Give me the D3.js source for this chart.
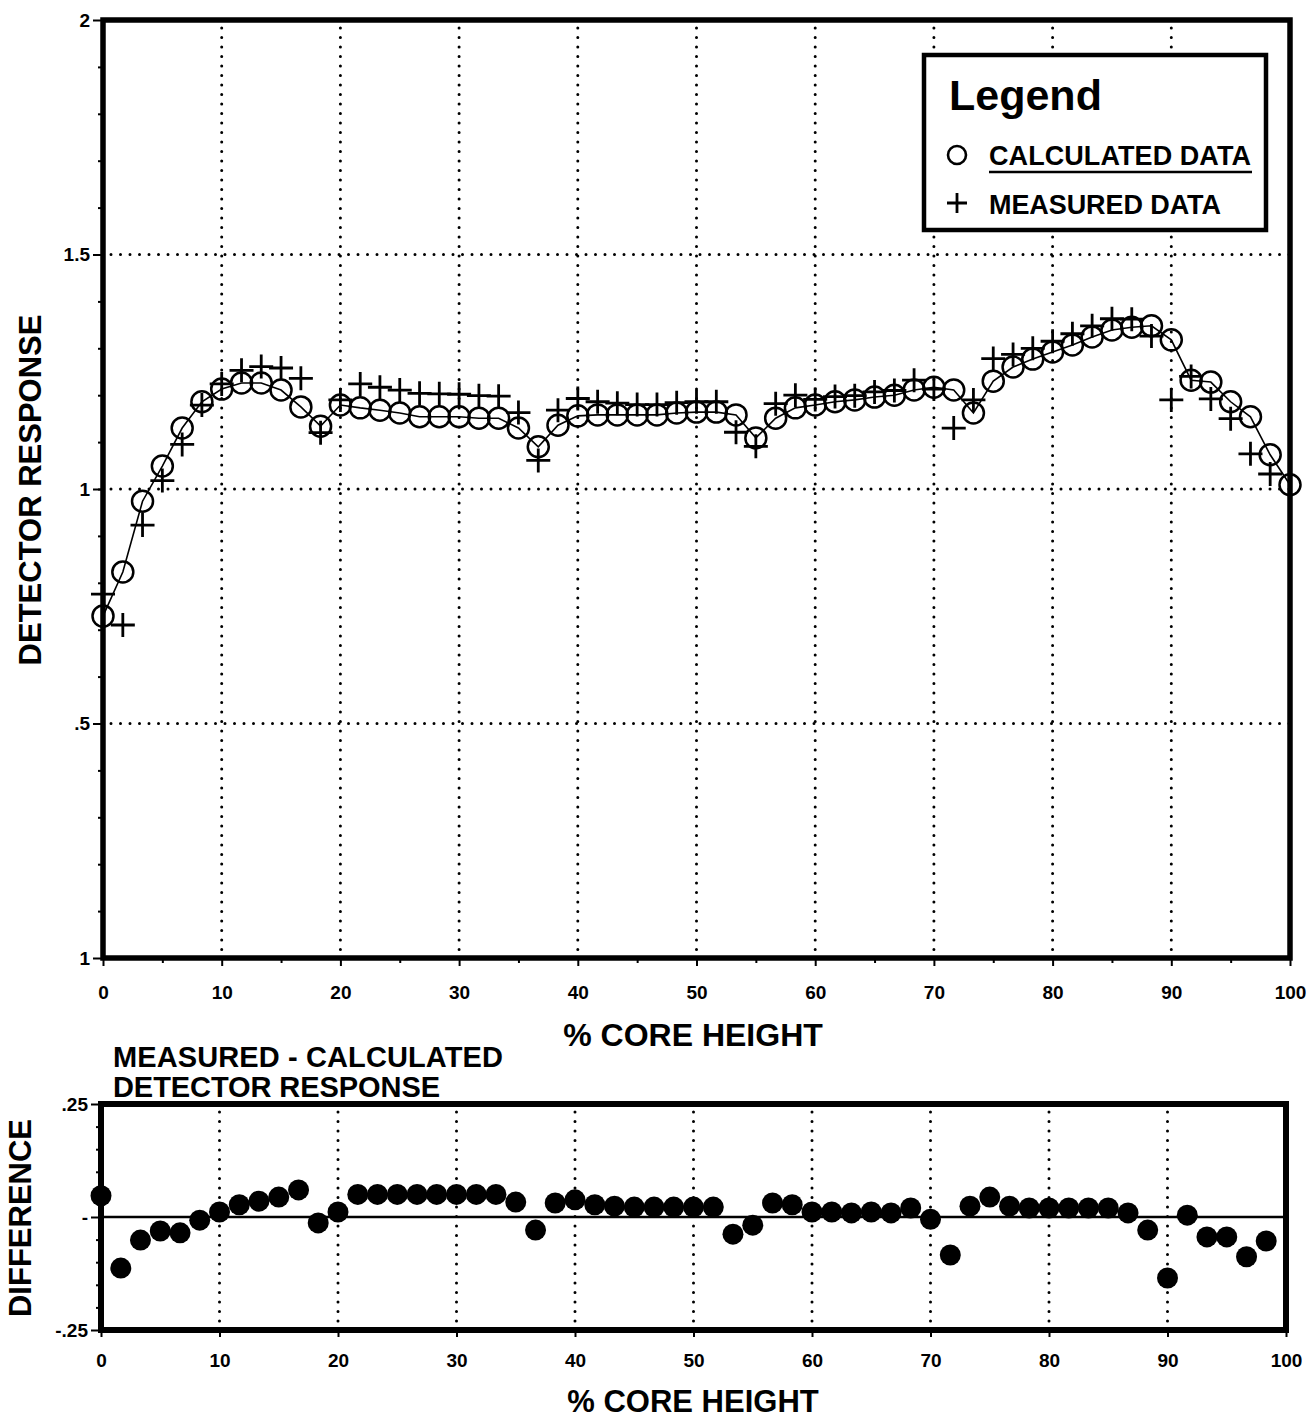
<!DOCTYPE html>
<html>
<head>
  <meta charset="utf-8">
  <title>Detector response</title>
  <script src="https://cdn.jsdelivr.net/npm/d3@7"></script>
  <style>
    body { margin: 0; background: white; }
    text { font-family: "Liberation Sans", Arial, sans-serif; font-weight: bold; fill: black; }
    .grid line { stroke: black; stroke-width: 3; stroke-dasharray: 0 9.5; stroke-linecap: round; }
    .axis path { display: none; }
    .axis line { stroke: black; stroke-width: 2; }
  </style>
</head>
<body>
<svg id="chart" width="1308" height="1420"></svg>
<script>
// % core height of each calculated point
var heightPct = [0, 1.67, 3.33, 5, 6.67, 8.33, 10, 11.67, 13.33, 15, 16.67, 18.33, 20, 21.67, 23.33,
  25, 26.67, 28.33, 30, 31.67, 33.33, 35, 36.67, 38.33, 40, 41.67, 43.33, 45, 46.67, 48.33, 50,
  51.67, 53.33, 55, 56.67, 58.33, 60, 61.67, 63.33, 65, 66.67, 68.33, 70, 71.67, 73.33, 75, 76.67,
  78.33, 80, 81.67, 83.33, 85, 86.67, 88.33, 90, 91.67, 93.33, 95, 96.67, 98.33, 100];

var calculated = [0.729, 0.823, 0.974, 1.049, 1.130, 1.186, 1.213, 1.226, 1.226, 1.211, 1.175,
  1.134, 1.179, 1.173, 1.168, 1.162, 1.154, 1.154, 1.154, 1.151, 1.151, 1.130, 1.090, 1.136,
  1.156, 1.158, 1.158, 1.158, 1.158, 1.162, 1.164, 1.164, 1.158, 1.109, 1.151, 1.173, 1.179,
  1.186, 1.190, 1.196, 1.200, 1.211, 1.217, 1.211, 1.162, 1.230, 1.260, 1.277, 1.292, 1.307,
  1.324, 1.339, 1.345, 1.348, 1.318, 1.232, 1.228, 1.186, 1.154, 1.073, 1.009];

// measured points stop at 98.33 %
var measured = [0.776, 0.710, 0.923, 1.018, 1.095, 1.179, 1.224, 1.253, 1.261, 1.258, 1.236,
  1.120, 1.190, 1.224, 1.217, 1.211, 1.204, 1.203, 1.202, 1.199, 1.198, 1.163, 1.061, 1.168,
  1.193, 1.186, 1.183, 1.180, 1.180, 1.184, 1.186, 1.186, 1.121, 1.091, 1.182, 1.200, 1.191,
  1.197, 1.199, 1.207, 1.210, 1.232, 1.213, 1.130, 1.190, 1.278, 1.287, 1.300, 1.315, 1.331,
  1.348, 1.363, 1.362, 1.326, 1.190, 1.240, 1.192, 1.150, 1.075, 1.032];

// measured - calculated (bottom panel)
var difference = [0.047, -0.113, -0.051, -0.031, -0.035, -0.007, 0.011, 0.027, 0.035, 0.044,
  0.060, -0.013, 0.011, 0.050, 0.050, 0.050, 0.050, 0.050, 0.050, 0.050, 0.050, 0.033, -0.029,
  0.031, 0.038, 0.027, 0.024, 0.022, 0.022, 0.022, 0.022, 0.022, -0.038, -0.018, 0.031, 0.027,
  0.011, 0.011, 0.009, 0.011, 0.009, 0.020, -0.005, -0.084, 0.024, 0.044, 0.024, 0.020, 0.020,
  0.020, 0.020, 0.020, 0.009, -0.029, -0.135, 0.004, -0.044, -0.044, -0.088, -0.053];

var xTicks = [0, 10, 20, 30, 40, 50, 60, 70, 80, 90, 100];
var xMinor = [5, 15, 25, 35, 45, 55, 65, 75, 85, 95];
var yTicksTop = [0, 0.5, 1, 1.5, 2];
var yLabelsTop = ["1", ".5", "1", "1.5", "2"];
var yTicksBot = [-0.25, 0, 0.25];
var yLabelsBot = ["-.25", "-", ".25"];

var svg = d3.select("#chart");

function bigTicks(g) {
  g.selectAll("text").attr("font-size", 19).attr("font-family", null).attr("fill", "black");
}

// ---------- top panel ----------
var x = d3.scaleLinear().domain([0, 100]).range([103, 1290]);
var y = d3.scaleLinear().domain([0, 2]).range([958, 20]);

var gridTop = svg.append("g").attr("class", "grid");
gridTop.selectAll(".v").data(xTicks.slice(1, -1)).enter().append("line")
  .attr("x1", d => x(d)).attr("x2", d => x(d))
  .attr("y1", y(2) + 8).attr("y2", y(0));
gridTop.selectAll(".h").data([0.5, 1, 1.5]).enter().append("line")
  .attr("x1", x(0) + 8).attr("x2", x(100))
  .attr("y1", d => y(d)).attr("y2", d => y(d));

svg.append("g").attr("class", "axis")
  .attr("transform", "translate(0," + y(0) + ")")
  .call(d3.axisBottom(x).tickValues(xTicks).tickSize(8).tickPadding(20).tickFormat(d3.format("d")))
  .call(bigTicks);
svg.append("g").attr("class", "axis")
  .attr("transform", "translate(0," + y(0) + ")")
  .call(d3.axisBottom(x).tickValues(xMinor).tickSize(5).tickFormat(""));

svg.append("g").attr("class", "axis")
  .attr("transform", "translate(" + x(0) + ",0)")
  .call(d3.axisLeft(y).tickValues(yTicksTop).tickSize(10).tickPadding(3)
    .tickFormat((d, i) => yLabelsTop[i]))
  .call(bigTicks);
svg.append("g").attr("class", "axis")
  .attr("transform", "translate(" + x(0) + ",0)")
  .call(d3.axisLeft(y).tickValues(d3.range(1, 20).map(d => d / 10)).tickSize(5).tickFormat(""));

svg.append("rect")
  .attr("x", x(0)).attr("y", y(2))
  .attr("width", x(100) - x(0)).attr("height", y(0) - y(2))
  .attr("fill", "none").attr("stroke", "black").attr("stroke-width", 5.5);

var line = d3.line().x((d, i) => x(heightPct[i])).y(d => y(d));
svg.append("path").datum(calculated)
  .attr("d", line).attr("fill", "none").attr("stroke", "black").attr("stroke-width", 1.6);

svg.append("g").selectAll("circle").data(calculated).enter().append("circle")
  .attr("cx", (d, i) => x(heightPct[i])).attr("cy", d => y(d))
  .attr("r", 10.5).attr("fill", "none").attr("stroke", "black").attr("stroke-width", 2.5);

svg.append("g").selectAll("path").data(measured).enter().append("path")
  .attr("transform", (d, i) => "translate(" + x(heightPct[i]) + "," + y(d) + ")")
  .attr("d", "M-12,0H12M0,-12V12")
  .attr("stroke", "black").attr("stroke-width", 2.8);

// legend
var lg = svg.append("g");
lg.append("rect").attr("x", 924).attr("y", 55).attr("width", 342).attr("height", 175)
  .attr("fill", "white").attr("stroke", "black").attr("stroke-width", 4.5);
lg.append("text").attr("x", 949).attr("y", 110).attr("font-size", 43).text("Legend");
lg.append("circle").attr("cx", 957).attr("cy", 155).attr("r", 9)
  .attr("fill", "none").attr("stroke", "black").attr("stroke-width", 2.6);
lg.append("text").attr("x", 989).attr("y", 165).attr("font-size", 27)
  .attr("textLength", 262).text("CALCULATED DATA");
lg.append("line").attr("x1", 989).attr("x2", 1252).attr("y1", 172).attr("y2", 172)
  .attr("stroke", "black").attr("stroke-width", 2.5);
lg.append("path").attr("transform", "translate(957,203)").attr("d", "M-10,0H10M0,-10V10")
  .attr("stroke", "black").attr("stroke-width", 2.8);
lg.append("text").attr("x", 989).attr("y", 214).attr("font-size", 27)
  .attr("textLength", 232).text("MEASURED DATA");

svg.append("text").attr("x", 693).attr("y", 1046).attr("text-anchor", "middle")
  .attr("font-size", 32).text("% CORE HEIGHT");
svg.append("text").attr("transform", "translate(41,490) rotate(-90)").attr("text-anchor", "middle")
  .attr("font-size", 31).text("DETECTOR RESPONSE");

// ---------- bottom panel ----------
var x2 = d3.scaleLinear().domain([0, 100]).range([101, 1286]);
var y2 = d3.scaleLinear().domain([-0.25, 0.25]).range([1330, 1104]);

svg.append("g").attr("class", "grid").selectAll("line").data(xTicks.slice(1, -1)).enter().append("line")
  .attr("x1", d => x2(d)).attr("x2", d => x2(d))
  .attr("y1", y2(0.25) + 8).attr("y2", y2(-0.25));

svg.append("g").attr("class", "axis")
  .attr("transform", "translate(0," + y2(-0.25) + ")")
  .call(d3.axisBottom(x2).tickValues(xTicks).tickSize(7).tickPadding(17).tickFormat(d3.format("d")))
  .call(bigTicks);
svg.append("g").attr("class", "axis")
  .attr("transform", "translate(" + x2(0) + ",0)")
  .call(d3.axisLeft(y2).tickValues(yTicksBot).tickSize(10).tickPadding(3)
    .tickFormat((d, i) => yLabelsBot[i]))
  .call(bigTicks);
svg.append("g").attr("class", "axis")
  .attr("transform", "translate(" + x2(0) + ",0)")
  .call(d3.axisLeft(y2).tickValues([-0.2, -0.15, -0.1, -0.05, 0.05, 0.1, 0.15, 0.2]).tickSize(5).tickFormat(""));

svg.append("line").attr("x1", x2(0)).attr("x2", x2(100))
  .attr("y1", y2(0)).attr("y2", y2(0)).attr("stroke", "black").attr("stroke-width", 2.5);

svg.append("rect")
  .attr("x", x2(0)).attr("y", y2(0.25))
  .attr("width", x2(100) - x2(0)).attr("height", y2(-0.25) - y2(0.25))
  .attr("fill", "none").attr("stroke", "black").attr("stroke-width", 6);

svg.append("g").selectAll("circle").data(difference).enter().append("circle")
  .attr("cx", (d, i) => x2(heightPct[i])).attr("cy", d => y2(d))
  .attr("r", 10.5).attr("fill", "black");

svg.append("text").attr("x", 113).attr("y", 1067).attr("font-size", 29)
  .attr("textLength", 390).text("MEASURED - CALCULATED");
svg.append("text").attr("x", 113).attr("y", 1097).attr("font-size", 29)
  .attr("textLength", 327).text("DETECTOR RESPONSE");
svg.append("text").attr("x", 693).attr("y", 1412).attr("text-anchor", "middle")
  .attr("font-size", 31).text("% CORE HEIGHT");
svg.append("text").attr("transform", "translate(31,1218) rotate(-90)").attr("text-anchor", "middle")
  .attr("font-size", 31).text("DIFFERENCE");
</script>
</body>
</html>
